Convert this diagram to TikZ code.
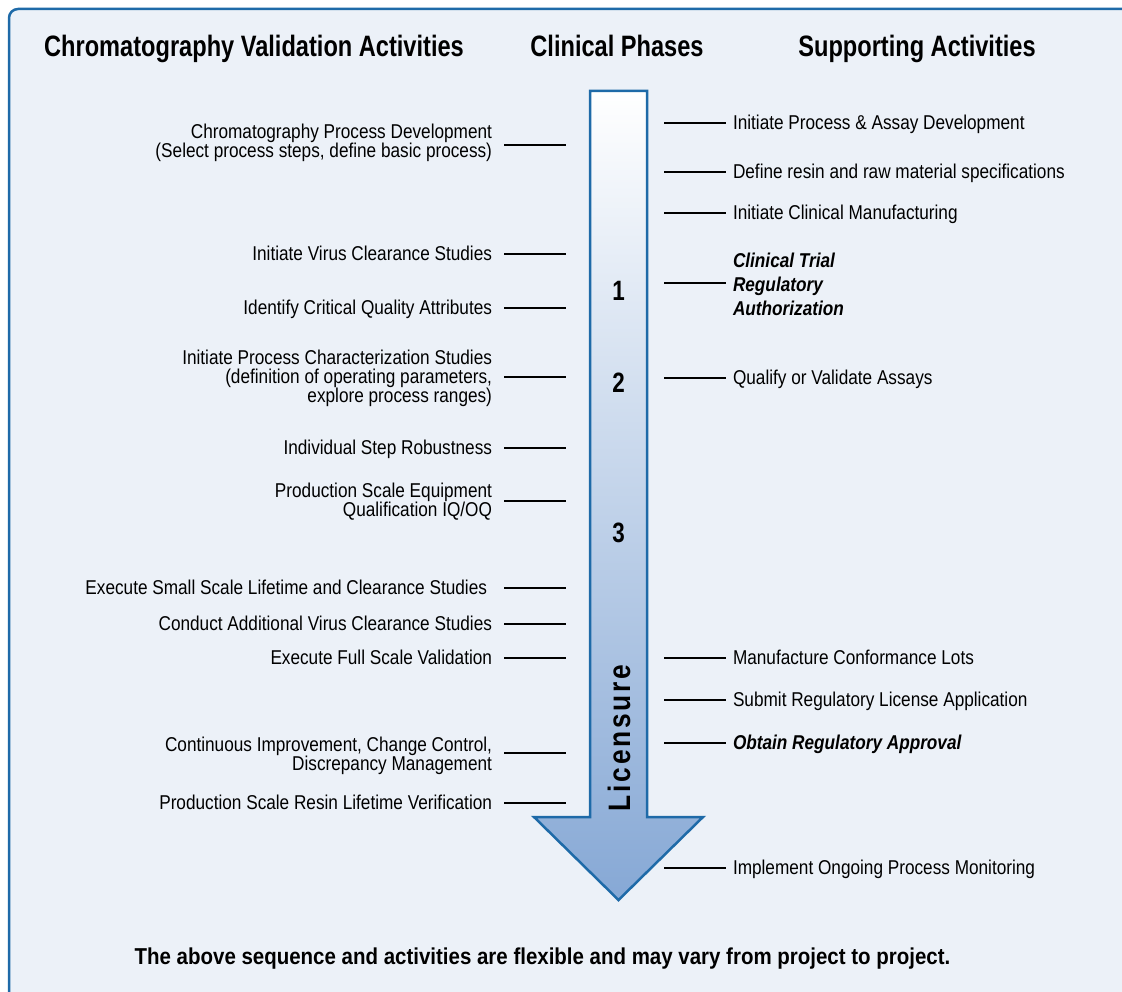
\documentclass[tikz,border=0pt]{standalone}
\usepackage{fontspec}
\setmainfont{Liberation Sans}[FakeStretch=0.86]
\newfontfamily\hfont{Liberation Sans}[FakeStretch=0.8]
\newfontfamily\ffont{Liberation Sans}[FakeStretch=0.89]
\newfontfamily\licfont{Liberation Sans}[FakeStretch=0.85, LetterSpace=9]
\definecolor{bgc}{HTML}{ECF1F8}
\definecolor{frm}{HTML}{1E6AA8}
\definecolor{arrb}{HTML}{86A8D5}
\begin{document}
\begin{tikzpicture}[x=1pt,y=-1pt,
  lblbase/.style={font=\fontsize{20}{19}\selectfont, inner sep=0pt, outer xsep=12pt,
    align=right, anchor=east},
  lbl/.style={lblbase, text height=17pt, text depth=4.5pt},
  rlblbase/.style={font=\fontsize{20}{19}\selectfont, inner sep=0pt, outer xsep=7pt,
    align=left, anchor=west},
  rlbl/.style={rlblbase, text height=17pt, text depth=4.5pt},
  bi/.style={font=\bfseries\itshape\fontsize{20}{24}\selectfont},
  hdr/.style={font=\hfont\bfseries\fontsize{29.5}{30}\selectfont, inner sep=0pt, anchor=base},
  phase/.style={font=\hfont\bfseries\fontsize{28}{28}\selectfont, inner sep=0pt},
  tick/.style={line width=1.5pt, black},
]
\useasboundingbox (0,0) rectangle (1122,992);
\clip (0,0) rectangle (1122,992);
\fill[white] (0,0) rectangle (1122,992);
\draw[frm, fill=bgc, line width=2.5pt, rounded corners=9pt] (9,9) rectangle (1140,1010);

% headers
\node[hdr] (h1) at (254,57) {Chromatography Validation Activities};
\node[hdr] (h2) at (617,57) {Clinical Phases};
\node[hdr] (h3) at (917,57) {Supporting Activities};

% arrow
\shade[top color=white, bottom color=arrb, draw=frm, line width=2.5pt, line join=miter]
  (590,91) -- (647,91) -- (647,817) -- (703,817) -- (618.5,900) -- (534,817) -- (590,817) -- cycle;

\node[phase] (p1) at (618.5,291) {1};
\node[phase] (p2) at (618.5,383) {2};
\node[phase] (p3) at (618.5,533) {3};
\node[font=\licfont\bfseries\fontsize{31}{31}\selectfont, inner sep=0pt, rotate=90] (lic) at (619,738) {Licensure};

% left side coordinates
\coordinate (a1) at (566,145);
\coordinate (a2) at (566,254);
\coordinate (a3) at (566,308);
\coordinate (a4) at (566,377);
\coordinate (a5) at (566,448);
\coordinate (a6) at (566,501);
\coordinate (a7) at (566,588);
\coordinate (a8) at (566,624);
\coordinate (a9) at (566,658);
\coordinate (a10) at (566,753);
\coordinate (a11) at (566,803);

\node[lblbase] (l1) at (504,143) {Chromatography Process Development\\(Select process steps, define basic process)};
\node[lbl] (l2) at (504,254) {Initiate Virus Clearance Studies};
\node[lbl] (l3) at (504,308) {Identify Critical Quality Attributes};
\node[lblbase] (l4) at (504,378) {Initiate Process Characterization Studies\\(definition of operating parameters,\\explore process ranges)};
\node[lbl] (l5) at (504,448) {Individual Step Robustness};
\node[lblbase] (l6) at (504,502) {Production Scale Equipment\\Qualification IQ/OQ};
\node[lbl, outer xsep=17pt] (l7) at (504,588) {Execute Small Scale Lifetime and Clearance Studies};
\node[lbl] (l8) at (504,624) {Conduct Additional Virus Clearance Studies};
\node[lbl] (l9) at (504,658) {Execute Full Scale Validation};
\node[lblbase] (l10) at (504,756) {Continuous Improvement, Change Control,\\Discrepancy Management};
\node[lbl] (l11) at (504,803) {Production Scale Resin Lifetime Verification};

\foreach \i in {1,...,11} \draw[tick] (l\i.east |- a\i) -- (a\i);

% right side coordinates
\coordinate (b1) at (664,123);
\coordinate (b2) at (664,172);
\coordinate (b3) at (664,213);
\coordinate (b4) at (664,283);
\coordinate (b5) at (664,378);
\coordinate (b6) at (664,658);
\coordinate (b7) at (664,700);
\coordinate (b8) at (664,743);
\coordinate (b9) at (664,868);

\node[rlbl] (r1) at (726,123) {Initiate Process \& Assay Development};
\node[rlbl] (r2) at (726,172) {Define resin and raw material specifications};
\node[rlbl] (r3) at (726,213) {Initiate Clinical Manufacturing};
\node[rlblbase, bi] (r4) at (726,284) {Clinical Trial\\Regulatory\\Authorization};
\node[rlbl] (r5) at (726,378) {Qualify or Validate Assays};
\node[rlbl] (r6) at (726,658) {Manufacture Conformance Lots};
\node[rlbl] (r7) at (726,700) {Submit Regulatory License Application};
\node[rlbl, bi] (r8) at (726,743) {Obtain Regulatory Approval};
\node[rlbl] (r9) at (726,868) {Implement Ongoing Process Monitoring};

\foreach \i in {1,...,9} \draw[tick] (b\i) -- (r\i.west |- b\i);

% footer
\node[font=\ffont\bfseries\fontsize{23}{23}\selectfont, inner sep=0pt, anchor=base] (foot) at (542.5,964)
  {The above sequence and activities are flexible and may vary from project to project.};
\end{tikzpicture}
\end{document}
